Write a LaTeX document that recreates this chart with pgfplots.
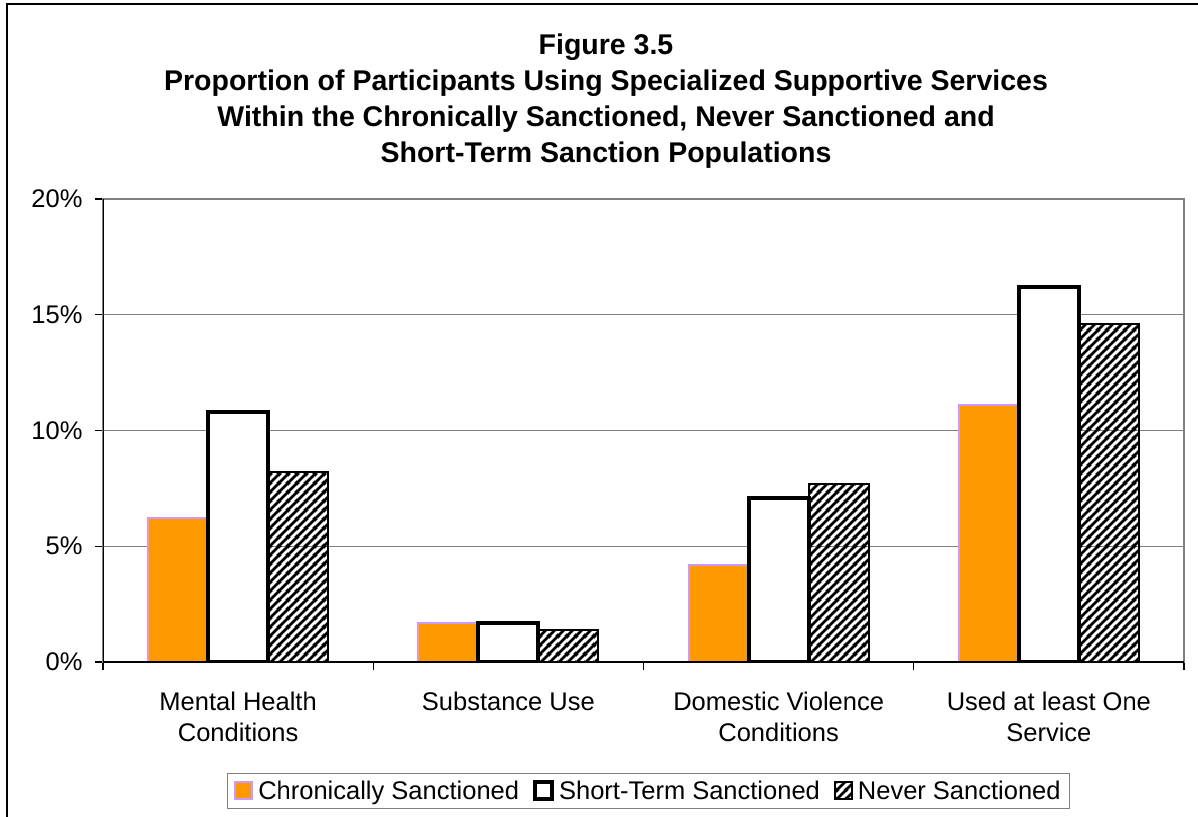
\documentclass[border=0pt]{standalone}
\usepackage{fontspec}
\setmainfont{Liberation Sans}
\usepackage{pgfplots}
\pgfplotsset{compat=1.18}
\usetikzlibrary{patterns}

\definecolor{chronic}{HTML}{FF9900}
\definecolor{chronicedge}{HTML}{CC99FF}
\definecolor{gridgray}{HTML}{808080}

\newcommand{\chartfont}{\fontsize{25.5}{31.5}\selectfont}
\newcommand{\titlefont}{\fontsize{28.5}{36}\selectfont\bfseries}

% forward diagonal hatching, 9pt period, thick strokes
\pgfdeclarepatternformonly{widehatch}{\pgfqpoint{0pt}{0pt}}{\pgfqpoint{9pt}{9pt}}{\pgfqpoint{9pt}{9pt}}{
  \pgfsetlinewidth{3pt}
  \pgfpathmoveto{\pgfqpoint{-2pt}{-2pt}}\pgfpathlineto{\pgfqpoint{11pt}{11pt}}
  \pgfpathmoveto{\pgfqpoint{-2pt}{7pt}}\pgfpathlineto{\pgfqpoint{2pt}{11pt}}
  \pgfpathmoveto{\pgfqpoint{7pt}{-2pt}}\pgfpathlineto{\pgfqpoint{11pt}{2pt}}
  \pgfusepath{stroke}
}

\begin{document}
\begin{tikzpicture}[x=1pt,y=1pt]
\useasboundingbox (0,0) rectangle (1198,816);
\clip (0,0) rectangle (1198,816);
% outer chart frame
\draw[line width=1.5pt] (7,-20) rectangle (1230,812);

% title
\node[anchor=base, font=\titlefont] at (606,761) {Figure 3.5};
\node[anchor=base, font=\titlefont] at (606,725) {Proportion of Participants Using Specialized Supportive Services};
\node[anchor=base, font=\titlefont] at (606,689) {Within the Chronically Sanctioned, Never Sanctioned and};
\node[anchor=base, font=\titlefont] at (606,653) {Short-Term Sanction Populations};

\begin{axis}[
  at={(103pt,154pt)}, anchor=south west,
  width=1081pt, height=463pt, scale only axis,
  xmin=-0.5, xmax=3.5, ymin=0, ymax=20,
  ybar=0pt, bar width=0.222,
  axis line style={gridgray, line width=1.5pt},
  tick align=outside, major tick length=8pt,
  xtick pos=bottom, ytick pos=left,
  tick style={black, line width=1.2pt},
  xtick={-0.5,0.5,1.5,2.5,3.5},
  xticklabels={},
  extra x ticks={0,1,2,3},
  extra x tick labels={Mental Health\\Conditions, Substance Use, Domestic Violence\\Conditions, Used at least One\\Service},
  extra x tick style={major tick length=0pt, grid=none,
    tick label style={align=center, anchor=north, yshift=-26pt}},
  ytick={0,5,10,15,20},
  yticklabels={0\%,5\%,10\%,15\%,20\%},
  yticklabel style={anchor=east, xshift=-9pt},
  tick label style={font=\chartfont},
  ymajorgrids,
  major grid style={gridgray, line width=1.5pt},
  legend columns=3,
  legend style={
    at={(0.5046,-0.2786)}, anchor=center,
    draw=gridgray, line width=1.5pt,
    inner xsep=7pt, inner ysep=5.5pt,
    font=\chartfont,
    /tikz/every even column/.append style={column sep=12pt},
    /tikz/every odd column/.append style={column sep=3pt},
  },
  legend image code/.code={\draw[#1] (0pt,-8pt) rectangle (17pt,9pt);},
]
\addplot[fill=chronic, draw=chronicedge, line width=2pt]
  coordinates {(0,6.2) (1,1.7) (2,4.2) (3,11.1)};
\addplot[fill=white, draw=black, line width=4pt]
  coordinates {(0,10.8) (1,1.7) (2,7.1) (3,16.2)};
\addplot[pattern=widehatch, pattern color=black, draw=black, line width=2pt]
  coordinates {(0,8.2) (1,1.4) (2,7.7) (3,14.6)};
\legend{Chronically Sanctioned, Short-Term Sanctioned, Never Sanctioned}
% dark left and bottom axis lines
\draw[black, line width=1.5pt] (rel axis cs:0,1) -- (rel axis cs:0,0) -- (rel axis cs:1,0);
\end{axis}
\end{tikzpicture}
\end{document}
